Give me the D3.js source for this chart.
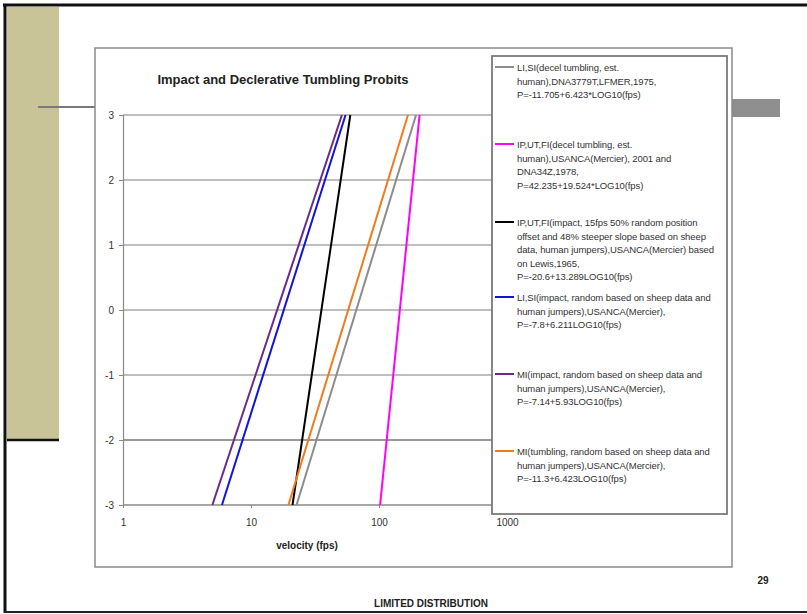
<!DOCTYPE html>
<html>
<head>
<meta charset="utf-8">
<script src="https://cdn.jsdelivr.net/npm/d3@7"></script>
<style>
  html, body { margin: 0; padding: 0; background: #fff; }
  svg { display: block; font-family: Arial, "Liberation Sans", sans-serif; }
</style>
</head>
<body>
<svg id="chart" width="807" height="614"></svg>
<script>
// ---- Data ----
const seriesNames = ["LI,SI decel tumbling", "IP,UT,FI decel tumbling", "IP,UT,FI impact", "LI,SI impact", "MI impact", "MI tumbling"];
const seriesColors = ["#8c8c8c", "#ff00ff", "#000000", "#1414d8", "#6a2a8a", "#f07a1e"];
// velocity (fps) at the bottom (probit -3) and top (probit 3) of each line
const velocityStart = [22.7, 102, 21.1, 5.93, 4.99, 19.6];
const velocityEnd   = [194.7, 207.5, 59.7, 54.8, 51.3, 168.4];
const probitStart = [-3, -3, -3, -3, -3, -3];
const probitEnd   = [3, 3, 3, 3, 3, 3];
const yTicks = [3, 2, 1, 0, -1, -2, -3];
const xTicks = [1, 10, 100, 1000];
const legendTexts = [
  ["LI,SI(decel tumbling, est.", "human),DNA3779T,LFMER,1975,", "P=-11.705+6.423*LOG10(fps)"],
  ["IP,UT,FI(decel tumbling, est.", "human),USANCA(Mercier), 2001 and", "DNA34Z,1978,", "P=42.235+19.524*LOG10(fps)"],
  ["IP,UT,FI(impact, 15fps 50% random position", "offset and 48% steeper slope based on sheep", "data, human jumpers),USANCA(Mercier) based", "on Lewis,1965,", "P=-20.6+13.289LOG10(fps)"],
  ["LI,SI(impact, random based on sheep data and", "human jumpers),USANCA(Mercier),", "P=-7.8+6.211LOG10(fps)"],
  ["MI(impact, random based on sheep data and", "human jumpers),USANCA(Mercier),", "P=-7.14+5.93LOG10(fps)"],
  ["MI(tumbling, random based on sheep data and", "human jumpers),USANCA(Mercier),", "P=-11.3+6.423LOG10(fps)"]
];
const chartTitle = "Impact and Declerative Tumbling Probits";
const xTitle = "velocity (fps)";

const svg = d3.select("#chart");

// ---- Slide decorations ----
svg.append("rect").attr("x", 7).attr("y", 7).attr("width", 52).attr("height", 433).attr("fill", "#c8c498");
svg.append("line").attr("x1", 7).attr("x2", 59).attr("y1", 440).attr("y2", 440).attr("stroke", "#111").attr("stroke-width", 2.5);
svg.append("line").attr("x1", 3).attr("x2", 807).attr("y1", 5).attr("y2", 5).attr("stroke", "#111").attr("stroke-width", 3);
svg.append("line").attr("x1", 5).attr("x2", 5).attr("y1", 4).attr("y2", 613).attr("stroke", "#111").attr("stroke-width", 3);
svg.append("line").attr("x1", 4).attr("x2", 807).attr("y1", 612).attr("y2", 612).attr("stroke", "#222").attr("stroke-width", 2);
svg.append("line").attr("x1", 38).attr("x2", 95).attr("y1", 107).attr("y2", 107).attr("stroke", "#7a7a7a").attr("stroke-width", 2);
svg.append("rect").attr("x", 732).attr("y", 99).attr("width", 48).attr("height", 18).attr("fill", "#8f8f8f");

// ---- Chart frame ----
svg.append("rect").attr("x", 95).attr("y", 48).attr("width", 637).attr("height", 519)
  .attr("fill", "#fff").attr("stroke", "#8a8a8a").attr("stroke-width", 1.5);

svg.append("text").attr("x", 283).attr("y", 84).attr("text-anchor", "middle")
  .attr("font-size", 13).attr("font-weight", "bold").attr("fill", "#222").text(chartTitle);

// ---- Scales ----
const x = d3.scaleLog().domain([1, 1000]).range([123, 507]);
const y = d3.scaleLinear().domain([-3, 3]).range([505, 115]);

// gridlines
svg.append("g").selectAll("line").data(yTicks.filter(d => d !== -3)).join("line")
  .attr("x1", 123).attr("x2", 507)
  .attr("y1", d => y(d)).attr("y2", d => y(d))
  .attr("stroke", d => d === -2 ? "#777" : "#a8a8a8").attr("stroke-width", 1.5);

// y axis
const yAxis = svg.append("g").attr("transform", "translate(123,0)")
  .call(d3.axisLeft(y).tickValues(yTicks).tickSize(4).tickPadding(5).tickFormat(d => String(d)));
yAxis.select(".domain").attr("stroke", "#888").attr("stroke-width", 1.2);
yAxis.selectAll(".tick line").attr("stroke", "#888");
yAxis.selectAll("text").attr("font-size", 10).attr("fill", "#333").attr("font-family", "Arial, 'Liberation Sans', sans-serif");

// x axis
const xAxis = svg.append("g").attr("transform", "translate(0,505)")
  .call(d3.axisBottom(x).tickValues(xTicks).tickSize(3).tickPadding(11).tickFormat(d => String(d)));
xAxis.select(".domain").attr("stroke", "#888").attr("stroke-width", 1.5).attr("d", "M123,0H507");
xAxis.selectAll(".tick line").attr("stroke", "#888");
xAxis.selectAll("text").attr("font-size", 10).attr("fill", "#333").attr("font-family", "Arial, 'Liberation Sans', sans-serif");

svg.append("text").attr("x", 307).attr("y", 549).attr("text-anchor", "middle")
  .attr("font-size", 10).attr("font-weight", "bold").attr("fill", "#222").text(xTitle);

// ---- Series lines ----
const line = d3.line().x(d => x(d[0])).y(d => y(d[1]));
seriesNames.forEach((name, i) => {
  const pts = [[velocityStart[i], probitStart[i]], [velocityEnd[i], probitEnd[i]]];
  svg.append("path").datum(pts).attr("d", line)
    .attr("fill", "none").attr("stroke", seriesColors[i]).attr("stroke-width", 2);
});

// ---- Legend ----
svg.append("rect").attr("x", 492).attr("y", 56).attr("width", 235).attr("height", 458)
  .attr("fill", "#fff").attr("stroke", "#7a7a7a").attr("stroke-width", 1.8);
const legendY = [67, 144, 222, 297, 374, 451];
legendTexts.forEach((lines, i) => {
  const g = svg.append("g").attr("transform", `translate(0,${legendY[i]})`);
  g.append("line").attr("x1", 495).attr("x2", 514).attr("y1", 0).attr("y2", 0)
    .attr("stroke", seriesColors[i]).attr("stroke-width", 2);
  lines.forEach((t, j) => {
    g.append("text").attr("x", 517).attr("y", 4 + j * 13.5)
      .attr("font-size", 9.5).attr("fill", "#333").attr("letter-spacing", -0.1).text(t);
  });
});

// ---- Footer ----
svg.append("text").attr("x", 763).attr("y", 584).attr("text-anchor", "middle")
  .attr("font-size", 10).attr("font-weight", "bold").attr("fill", "#222").text("29");
svg.append("text").attr("x", 431).attr("y", 607).attr("text-anchor", "middle")
  .attr("font-size", 10).attr("font-weight", "bold").attr("fill", "#222").text("LIMITED DISTRIBUTION");
</script>
</body>
</html>
